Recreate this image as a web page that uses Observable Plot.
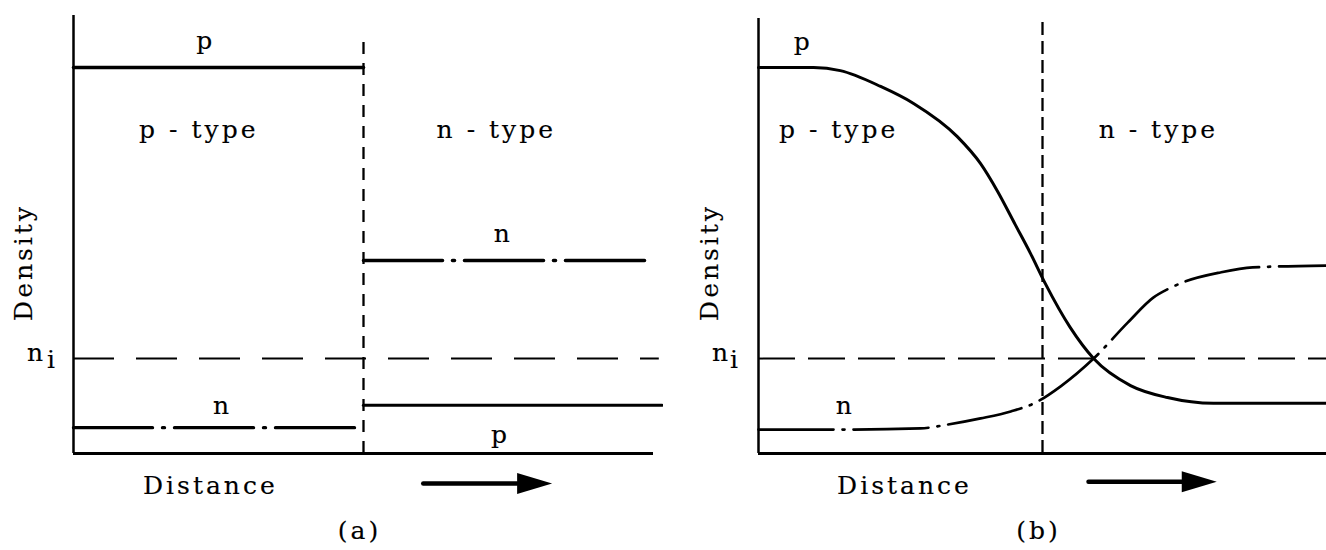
<!DOCTYPE html>
<html>
<head>
<meta charset="utf-8">
<script src="https://cdn.jsdelivr.net/npm/d3@7"></script>
<script src="https://cdn.jsdelivr.net/npm/@observablehq/plot@0.6"></script>
<style>
  body { margin: 0; background: #fff; }
  #figure { display: flex; width: 1326px; height: 550px; }
  #figure svg { overflow: visible; }
  #figure text { letter-spacing: 3px; }
</style>
</head>
<body>
<div id="figure"></div>
<script>
// Carrier densities (arbitrary units) against distance across a p-n junction.
const junction = 5;
const intrinsic = 2.46;

// (a) abrupt model: constant densities on each side of the junction
const stepDistP = [0, 5];
const stepDistN = [5, 10];
const stepDistNMinority = [5, 10.15];
const stepHolesP = [10, 10];          // majority holes, p side
const stepElectronsN = [5, 5];        // majority electrons, n side
const stepHolesN = [1.25, 1.25];      // minority holes, n side
const stepElectronsP = [0.67, 0.67];  // minority electrons, p side

// (b) graded model: densities change smoothly through the junction
const gradedDistHoles = [0, 0.97, 1.44, 2.15, 2.73, 3.5, 3.91, 4.21, 4.52, 4.79, 5.05, 5.49, 5.9, 6.55, 7.2, 8.01, 10];
const gradedHoles     = [10, 10, 9.92, 9.51, 9.07, 8.21, 7.51, 6.79, 5.93, 5.18, 4.4, 3.26, 2.46, 1.76, 1.45, 1.3, 1.3];
const gradedDistElectrons = [0, 1.44, 2.85, 3.33, 3.91, 4.44, 4.88, 5.32, 5.9, 6.5, 6.95, 7.22, 7.52, 8.13, 8.7, 10];
const gradedElectrons     = [0.62, 0.62, 0.65, 0.75, 0.91, 1.09, 1.32, 1.74, 2.46, 3.39, 4.04, 4.27, 4.46, 4.69, 4.82, 4.87];

const pts = (xs, ys) => xs.map((x, i) => ({x, y: ys[i]}));

// filled arrowhead pointing right, drawn as a custom dot symbol
const arrowHead = {
  draw(context, size) {
    const r = Math.sqrt(size / Math.PI);
    context.moveTo(r, 0);
    context.lineTo(-r, -0.6 * r);
    context.lineTo(-r, 0.6 * r);
    context.closePath();
  }
};

const font = "DejaVu Serif";
const fs = 25;
const ink = {fill: "black", stroke: "black", strokeWidth: 0.15};

function label(x, y, text, extra = {}) {
  return Plot.text([text], {x: () => x, y: () => y, text: d => d, fontSize: fs,
    fontFamily: font, ...ink, ...extra});
}

function panel({marginLeft, marginRight, axisTop, dashTop, dashArray, niDash, niEnd, curves, distX, arrow, tag, niDx}) {
  return Plot.plot({
    width: 663,
    height: 550,
    marginLeft, marginRight,
    marginTop: 13,
    marginBottom: 97,
    x: {domain: [0, 10], axis: null},
    y: {domain: [0, 11.4], axis: null},
    style: {background: "white", color: "black", fontFamily: font},
    marks: [
      // axes
      Plot.ruleX([0], {y1: 0, y2: axisTop, strokeWidth: 2.5}),
      Plot.ruleY([0], {x1: 0, x2: 10, strokeWidth: 3}),
      // junction
      Plot.ruleX([junction], {y1: 0, y2: dashTop, strokeWidth: 2.3, strokeDasharray: dashArray}),
      // intrinsic level
      Plot.ruleY([intrinsic], {x1: 0, x2: niEnd, strokeWidth: 2, strokeDasharray: niDash}),
      ...curves,
      // annotations
      label(-0.86, 4.95, "Density", {rotate: -90}),
      Plot.text(["n"], {x: () => 0, y: () => intrinsic, text: d => d, dx: niDx[0], dy: -6, fontSize: fs, fontFamily: font, ...ink}),
      Plot.text(["i"], {x: () => 0, y: () => intrinsic, text: d => d, dx: niDx[1], dy: 1, fontSize: fs, fontFamily: font, ...ink}),
      label(distX, -0.83, "Distance"),
      Plot.link([arrow], {x1: d => d[0], x2: d => d[1], y1: d => d[3], y2: d => d[3], strokeWidth: 4.5, strokeLinecap: "round"}),
      Plot.dot([arrow], {x: d => d[2], y: d => d[3], r: 17.5, symbol: arrowHead, fill: "black", stroke: "none"}),
      label(4.93, -2.02, tag)
    ]
  });
}

const dashDot = (w, a) => ({strokeWidth: w, strokeDasharray: a, strokeLinecap: "round", stroke: "black"});

const figA = panel({
  marginLeft: 73, marginRight: 10,
  axisTop: 11.35, dashTop: 10.83, dashArray: "12,9", niDash: "41,22", niEnd: 10.1,
  distX: 2.36, arrow: [6.03, 7.65, 7.95, -0.78], tag: "(a)", niDx: [-37, -21],
  curves: [
    Plot.line(pts(stepDistP, stepHolesP), {x: "x", y: "y", strokeWidth: 3.5}),
    Plot.line(pts(stepDistNMinority, stepHolesN), {x: "x", y: "y", strokeWidth: 3.2}),
    Plot.line(pts(stepDistP, stepElectronsP), {x: "x", y: "y", ...dashDot(3.4, "79,10,2,10")}),
    Plot.line(pts(stepDistN, stepElectronsN), {x: "x", y: "y", ...dashDot(3.6, "79,10,2,10")}),
    label(2.28, 10.7, "p"),
    label(2.16, 8.37, "p - type"),
    label(7.29, 8.37, "n - type"),
    label(7.41, 5.7, "n"),
    label(2.57, 1.24, "n"),
    label(7.36, 0.47, "p")
  ]
});

const figB = panel({
  marginLeft: 95, marginRight: 0,
  axisTop: 11.27, dashTop: 11.2, dashArray: "13,6", niDash: "37,13", niEnd: 10,
  distX: 2.57, arrow: [5.81, 7.45, 7.76, -0.73], tag: "(b)", niDx: [-37, -23],
  curves: [
    Plot.line(pts(gradedDistHoles, gradedHoles), {x: "x", y: "y", strokeWidth: 3, curve: "monotone-x"}),
    Plot.line(pts(gradedDistElectrons, gradedElectrons), {x: "x", y: "y", curve: "monotone-x", ...dashDot(2.7, "75,9,2,9")}),
    label(0.79, 10.65, "p"),
    label(1.41, 8.37, "p - type"),
    label(7.04, 8.37, "n - type"),
    label(1.53, 1.22, "n")
  ]
});

document.getElementById("figure").append(figA, figB);
</script>
</body>
</html>
